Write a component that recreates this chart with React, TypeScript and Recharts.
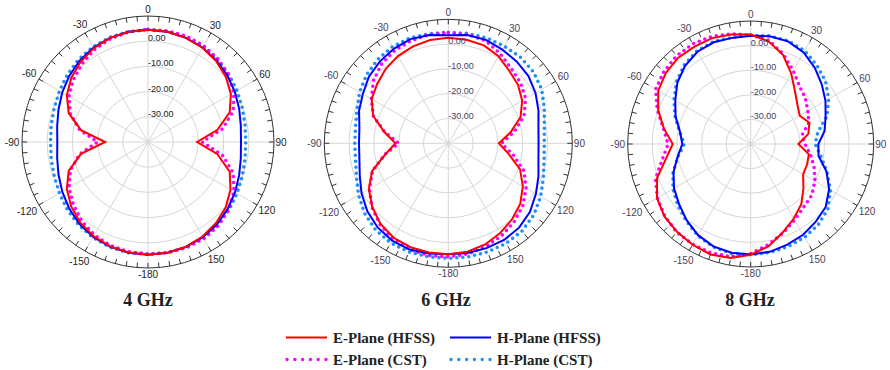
import { RadarChart, Radar, PolarGrid, PolarAngleAxis, PolarRadiusAxis } from 'recharts'

// pattern angles in degrees, clockwise from the top (190..350 = -170..-10)
const ANGLES = [0, 10, 20, 30, 40, 50, 60, 70, 80, 90, 100, 110, 120, 130, 140, 150, 160, 170, 180,
  190, 200, 210, 220, 230, 240, 250, 260, 270, 280, 290, 300, 310, 320, 330, 340, 350]
const ANGLE_LABELS = [0, 30, 60, 90, 120, 150, 180, 210, 240, 270, 300, 330]
const RADIUS_TICKS = [-30, -20, -10, 0]
const DB_DOMAIN: [number, number] = [-40, 10]

// 4 GHz
const E4_HFSS = [4.5, 4.4, 4.0, 3.2, 2.0, 0.3, -2.0, -5.5, -12, -20.5, -12, -5.5, -2.2, 0.3, 2.0, 3.3, 4.2, 4.6, 4.7,
  4.5, 4.1, 3.2, 1.8, -0.2, -2.8, -6.5, -13, -23, -13, -6.5, -2.8, -0.3, 1.6, 3.0, 4.0, 4.4]
const E4_CST = [4.7, 4.8, 4.7, 4.1, 3.1, 1.6, -0.6, -4.0, -10, -18.5, -10, -4.0, -0.6, 1.8, 3.4, 4.3, 4.7, 4.6, 4.4,
  4.2, 3.7, 2.6, 0.9, -1.3, -3.8, -7.2, -12.5, -20, -12.5, -7.2, -3.8, -1.4, 0.6, 2.4, 3.6, 4.3]
const H4_HFSS = [4.5, 4.4, 4.0, 3.3, 2.3, 1.1, -0.2, -1.5, -2.6, -3.1, -2.6, -1.5, -0.1, 1.3, 2.6, 3.6, 4.3, 4.6, 4.7,
  4.6, 4.2, 3.5, 2.4, 0.9, -0.7, -2.2, -3.4, -4.0, -3.4, -2.2, -0.7, 0.8, 2.2, 3.3, 4.0, 4.4]
const H4_CST = [4.6, 4.5, 4.2, 3.6, 2.8, 1.8, 0.8, -0.2, -0.9, -1.2, -0.9, -0.2, 0.8, 2.0, 3.0, 3.8, 4.4, 4.6, 4.6,
  4.6, 4.4, 3.8, 2.9, 1.8, 0.6, -0.4, -1.0, -1.3, -1.0, -0.4, 0.6, 1.7, 2.8, 3.6, 4.2, 4.5]

// 6 GHz
const E6_HFSS = [2.6, 2.4, 2.0, 0.5, -1.8, -3.3, -5.6, -9.0, -14.5, -19.6, -15.3, -9.2, -5.3, -2.1, 0.0, 1.8, 3.4, 4.4, 4.7,
  4.7, 4.6, 4.0, 2.5, 0.0, -3.0, -7.3, -14.2, -18.7, -13.8, -7.8, -4.3, -2.6, -0.8, 0.6, 1.6, 2.3]
const E6_CST = [4.6, 4.6, 4.0, 1.8, -0.6, -2.0, -4.0, -7.5, -13, -18.5, -13.5, -7.5, -3.8, -0.8, 1.3, 3.0, 4.3, 5.3, 5.8,
  5.9, 5.6, 4.6, 2.8, 0.2, -3.3, -7.5, -14, -20, -14, -7.8, -4.2, -0.6, 1.8, 3.2, 4.0, 4.5]
const H6_HFSS = [3.6, 4.3, 4.4, 3.6, 3.0, 2.2, 0.6, -1.3, -3.1, -3.6, -3.1, -1.3, 0.8, 3.0, 4.4, 5.0, 5.0, 4.9, 4.7,
  5.1, 5.6, 5.3, 4.3, 2.6, 0.4, -2.0, -3.6, -4.0, -3.6, -1.7, -0.2, 1.8, 3.0, 4.0, 4.7, 4.3]
const H6_CST = [4.8, 5.0, 5.2, 5.2, 5.3, 4.8, 3.5, 1.2, -0.7, -1.3, -0.8, 0.8, 3.0, 5.0, 6.2, 6.6, 6.6, 6.5, 6.4,
  6.5, 6.6, 6.4, 5.6, 4.0, 1.8, -0.6, -2.0, -2.3, -2.0, -0.8, 1.3, 3.0, 4.2, 5.0, 5.2, 4.8]

// 8 GHz
const E8_HFSS = [4.5, 2.3, -1.5, -7.0, -12.0, -15.2, -17.0, -14.6, -16.2, -20.6, -16.0, -15.6, -15.4, -12.0, -8.0, -5.0, -1.8, 2.2, 5.0,
  7.1, 7.8, 7.3, 6.6, 5.8, 4.0, 0.5, -5.0, -8.3, -4.2, 0.0, 3.4, 5.0, 5.8, 5.7, 5.8, 5.2]
const E8_CST = [4.3, 2.8, -1.2, -5.5, -9.2, -11.0, -13.2, -14.8, -18.8, -18.0, -15.3, -12.6, -9.8, -7.6, -6.5, -4.3, -1.5, 1.5, 4.6,
  6.5, 7.1, 7.1, 6.8, 5.6, 3.8, 1.2, -3.5, -6.4, -4.0, 0.4, 4.6, 6.0, 6.8, 7.0, 6.5, 5.5]
const H8_HFSS = [4.0, 4.5, 4.4, 3.0, 0.5, -2.3, -4.9, -7.6, -9.5, -12.5, -12.0, -7.2, -3.2, -0.2, 1.2, 2.6, 3.5, 4.5, 4.9,
  4.9, 4.3, 2.8, 0.5, -2.0, -4.0, -6.6, -9.8, -12.2, -10.8, -7.5, -4.6, -1.1, 1.5, 3.3, 4.0, 3.8]
const H8_CST = [4.2, 4.6, 4.6, 3.8, 1.8, -0.3, -3.4, -7.0, -12.3, -13.8, -11.0, -7.0, -2.6, 1.0, 2.8, 3.8, 4.4, 4.8, 5.0,
  5.2, 4.6, 3.0, 0.8, -1.3, -3.5, -6.4, -10.0, -13.0, -10.6, -7.3, -4.0, -0.6, 2.0, 3.7, 4.3, 4.0]

const TITLES = ['4 GHz', '6 GHz', '8 GHz']
const SERIES = [
  { e: E4_HFSS, eC: E4_CST, h: H4_HFSS, hC: H4_CST },
  { e: E6_HFSS, eC: E6_CST, h: H6_HFSS, hC: H6_CST },
  { e: E8_HFSS, eC: E8_CST, h: H8_HFSS, hC: H8_CST },
]

const PANELS = [
  { left: 0, cx: 148, cy: 142, r: 126, text: '#222222', titleX: 148 },
  { left: 300, cx: 148.3, cy: 143.3, r: 124, text: '#4a3d5c', titleX: 446 },
  { left: 600, cx: 150.7, cy: 144, r: 123, text: '#4a3d5c', titleX: 750 },
]

const RED = '#ff0000'
const BLUE = '#0000ff'
const MAGENTA = '#ff00ff'
const SKY = '#1e8ff5'

const labelText = (v: number) => (v === 180 ? '-180' : v > 180 ? String(v - 360) : String(v))

function makeAngleTick(cx: number, cy: number, R: number, color: string) {
  return (props: any) => {
    const v = Number(props.payload?.value)
    const marks = [v, v + 5].map((d) => {
      const a = (d * Math.PI) / 180
      return (
        <line key={d} x1={cx + R * Math.sin(a)} y1={cy - R * Math.cos(a)}
          x2={cx + (R - 5) * Math.sin(a)} y2={cy - (R - 5) * Math.cos(a)} stroke="#333" strokeWidth={1} />
      )
    })
    let label = null
    if (v % 30 === 0) {
      const txt = labelText(v)
      const a = (v * Math.PI) / 180
      const w = txt.length * 5.6
      const rr = R + 1.5 + (Math.abs(Math.sin(a)) * w) / 2 + (Math.abs(Math.cos(a)) * 10) / 2
      label = (
        <text x={cx + rr * Math.sin(a)} y={cy - rr * Math.cos(a)} textAnchor="middle" dominantBaseline="central"
          fontFamily="'Liberation Sans', Arial, sans-serif" fontSize={10} fill={color}>
          {txt}
        </text>
      )
    }
    return (
      <g>
        {marks}
        {label}
      </g>
    )
  }
}

function PolarPanel({ index }: { index: number }) {
  const p = PANELS[index]
  const s = SERIES[index]
  const data = ANGLES.map((a, i) => ({ angle: a, eH: s.e[i], eC: s.eC[i], hH: s.h[i], hC: s.hC[i] }))
  return (
    <div style={{ position: 'absolute', left: p.left, top: 0 }}>
      <RadarChart width={300} height={290} data={data} cx={p.cx} cy={p.cy} outerRadius={p.r}
        startAngle={90} endAngle={-270} margin={{ top: 0, right: 0, bottom: 0, left: 0 }}>
        <PolarGrid gridType="circle" stroke="#d6d6d6" polarAngles={ANGLE_LABELS.map((t) => 90 - t)} />
        <PolarAngleAxis dataKey="angle" axisLineType="circle" stroke="#333" tickLine={false}
          tick={makeAngleTick(p.cx, p.cy, p.r, p.text)} />
        <Radar dataKey="hC" stroke={SKY} strokeWidth={3.6} strokeDasharray="0 6" strokeLinecap="round"
          fill="none" fillOpacity={0} dot={false} isAnimationActive={false} />
        <Radar dataKey="eC" stroke={MAGENTA} strokeWidth={3.6} strokeDasharray="0 6" strokeLinecap="round"
          fill="none" fillOpacity={0} dot={false} isAnimationActive={false} />
        <Radar dataKey="hH" stroke={BLUE} strokeWidth={2} fill="none" fillOpacity={0} dot={false} isAnimationActive={false} />
        <Radar dataKey="eH" stroke={RED} strokeWidth={2} fill="none" fillOpacity={0} dot={false} isAnimationActive={false} />
        <PolarRadiusAxis angle={90} type="number" domain={DB_DOMAIN} ticks={RADIUS_TICKS} axisLine={false} tickLine={false}
          tickFormatter={(v: number) => v.toFixed(2)}
          tick={{ fill: p.text, fontSize: 9, fontFamily: "'Liberation Sans', Arial, sans-serif" }} />
      </RadarChart>
    </div>
  )
}

const LEGEND = [
  { name: 'E-Plane (HFSS)', color: RED, dotted: false, x: 286, y: 337.5 },
  { name: 'H-Plane (HFSS)', color: BLUE, dotted: false, x: 450, y: 337.5 },
  { name: 'E-Plane (CST)', color: MAGENTA, dotted: true, x: 286, y: 359.5 },
  { name: 'H-Plane (CST)', color: SKY, dotted: true, x: 450, y: 359.5 },
]

export default function App() {
  return (
    <div style={{ position: 'absolute', left: 0, top: 0, width: 890, height: 370, background: '#fff', overflow: 'hidden' }}>
      {[0, 1, 2].map((i) => (
        <PolarPanel key={i} index={i} />
      ))}
      <svg width={890} height={370} style={{ position: 'absolute', left: 0, top: 0, pointerEvents: 'none' }}>
        {TITLES.map((t, i) => (
          <text key={t} x={PANELS[i].titleX} y={306} textAnchor="middle" fontFamily="'Liberation Serif', 'Times New Roman', serif"
            fontWeight="bold" fontSize={18} fill="#222">
            {t}
          </text>
        ))}
        {LEGEND.map((l) => (
          <g key={l.name}>
            <line x1={l.x + (l.dotted ? 1 : 0)} y1={l.y} x2={l.x + 41} y2={l.y} stroke={l.color}
              strokeWidth={l.dotted ? 3.4 : 2.2} strokeDasharray={l.dotted ? '0 7.8' : undefined}
              strokeLinecap={l.dotted ? 'round' : 'butt'} />
            <text x={l.x + 47} y={l.y + 5} fontFamily="'Liberation Serif', 'Times New Roman', serif" fontWeight="bold"
              fontSize={15} fill="#222">
              {l.name}
            </text>
          </g>
        ))}
      </svg>
    </div>
  )
}
